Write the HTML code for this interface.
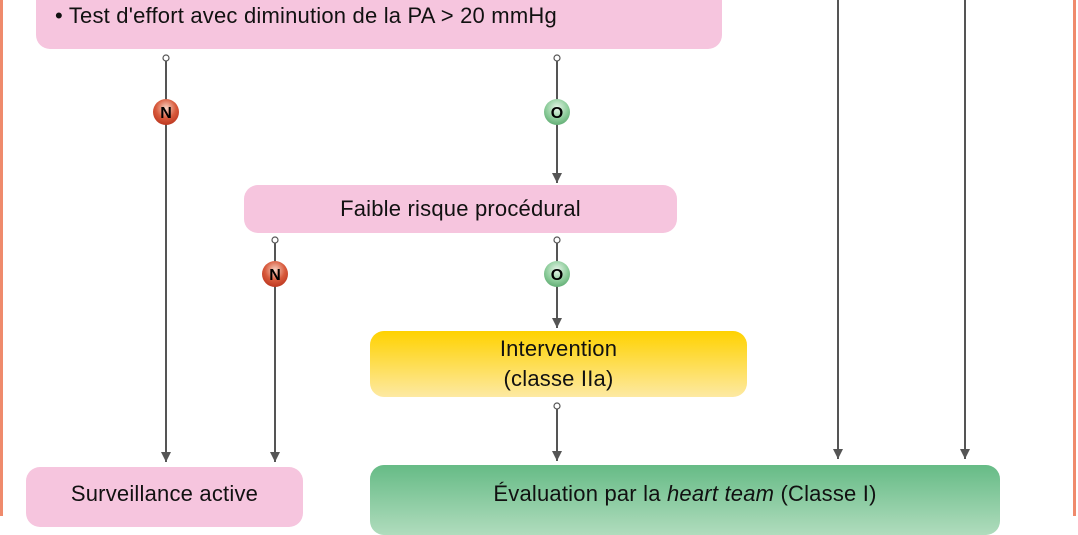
<!DOCTYPE html>
<html><head><meta charset="utf-8"><style>
body{margin:0;width:1078px;height:516px;overflow:hidden;background:#fff;position:relative;font-family:"Liberation Sans",sans-serif;}
.b{position:absolute;border-radius:14px;display:flex;align-items:center;justify-content:center;text-align:center;color:#111;font-size:22px;letter-spacing:0.2px;line-height:30px;white-space:nowrap}
.pink{background:#f6c5de}
</style></head><body>
<div style="position:absolute;left:0;top:0;width:3px;height:516px;background:#ef8a6c"></div>
<div style="position:absolute;left:1073px;top:0;width:3px;height:516px;background:#ef8a6c"></div>
<div class="b pink" style="left:36px;top:-20px;width:686px;height:69px"><span style="position:absolute;left:19px;top:24px;line-height:24px">• Test d'effort avec diminution de la PA &gt; 20 mmHg</span></div>
<div class="b pink" style="left:244px;top:185px;width:433px;height:48px">Faible risque procédural</div>
<div class="b" style="left:370px;top:331px;width:377px;height:66px;background:linear-gradient(#ffd200,#fde9a3)">Intervention<br>(classe IIa)</div>
<div class="b pink" style="left:26px;top:467px;width:277px;height:60px;align-items:flex-start;padding-top:12px;box-sizing:border-box">Surveillance active</div>
<div class="b" style="left:370px;top:465px;width:630px;height:70px;background:linear-gradient(#66bb86,#b0dcbd);align-items:flex-start;padding-top:14px;box-sizing:border-box">Évaluation par la&nbsp;<i>heart team</i>&nbsp;(Classe I)</div>
<svg width="1078" height="516" style="position:absolute;left:0;top:0">
<defs>
<marker id="a" markerWidth="12" markerHeight="12" refX="10" refY="5" orient="auto" markerUnits="userSpaceOnUse"><path d="M0,0 L10,5 L0,10Z" fill="#555"/></marker>
<radialGradient id="r" cx="0.5" cy="0.35" r="0.7"><stop offset="0" stop-color="#f7d2c2"/><stop offset="0.55" stop-color="#d85a3c"/><stop offset="1" stop-color="#b8321c"/></radialGradient>
<radialGradient id="g" cx="0.5" cy="0.35" r="0.7"><stop offset="0" stop-color="#e8f5ea"/><stop offset="0.6" stop-color="#8ccc9a"/><stop offset="1" stop-color="#5aa86e"/></radialGradient>
</defs>
<g stroke="#555" stroke-width="2" fill="none">
<line x1="166" y1="61" x2="166" y2="462" marker-end="url(#a)"/>
<line x1="557" y1="61" x2="557" y2="183" marker-end="url(#a)"/>
<line x1="275" y1="243" x2="275" y2="462" marker-end="url(#a)"/>
<line x1="557" y1="243" x2="557" y2="328" marker-end="url(#a)"/>
<line x1="557" y1="409" x2="557" y2="461" marker-end="url(#a)"/>
<line x1="838" y1="0" x2="838" y2="459" marker-end="url(#a)"/>
<line x1="965" y1="0" x2="965" y2="459" marker-end="url(#a)"/>
</g>
<g fill="#fff" stroke="#555" stroke-width="1.2">
<circle cx="166" cy="58" r="3"/><circle cx="557" cy="58" r="3"/>
<circle cx="275" cy="240" r="3"/><circle cx="557" cy="240" r="3"/>
<circle cx="557" cy="406" r="3"/>
</g>
<circle cx="166" cy="112" r="13" fill="url(#r)"/>
<circle cx="275" cy="274" r="13" fill="url(#r)"/>
<circle cx="557" cy="112" r="13" fill="url(#g)"/>
<circle cx="557" cy="274" r="13" fill="url(#g)"/>
<g font-family="Liberation Sans" font-weight="bold" font-size="16" text-anchor="middle" fill="#000">
<text x="166" y="118">N</text><text x="275" y="280">N</text>
<text x="557" y="118">O</text><text x="557" y="280">O</text>
</g>
</svg>
</body></html>
